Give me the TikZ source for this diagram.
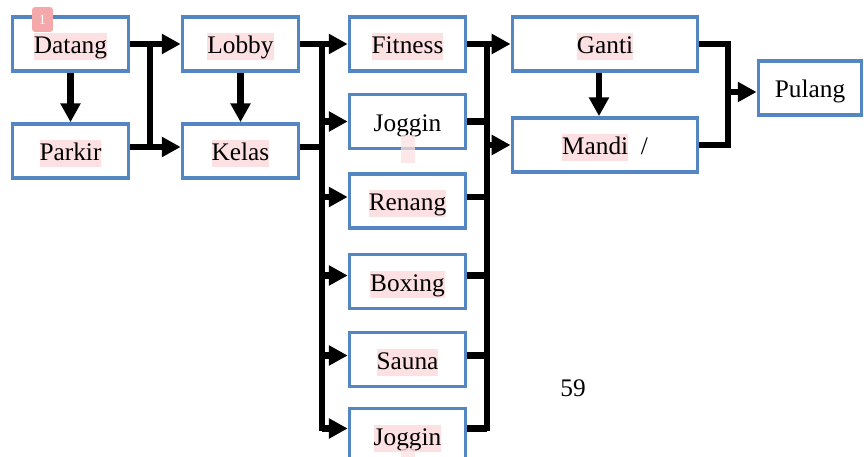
\documentclass[tikz,border=0pt]{standalone}
\usepackage{fontspec}
\setmainfont{Liberation Serif}
\usepackage{xcolor}
\usetikzlibrary{arrows.meta}
\usetikzlibrary{calc}
\definecolor{boxblue}{RGB}{84,134,194}
\definecolor{hlpink}{RGB}{252,224,226}
\definecolor{markpink}{RGB}{244,168,170}
\newcommand{\hl}[1]{{\setlength{\fboxsep}{0pt}\colorbox{hlpink}{\rule[-4.5pt]{0pt}{19pt}#1}}}
\tikzset{
	stepbox/.style={draw=boxblue, line width=2.6pt, fill=white, inner sep=0pt,
		text height=16pt, text depth=2pt,
		minimum width=2.9cm, minimum height=1.35cm, font=\fontsize{18}{19}\selectfont},
	widebox/.style={stepbox, minimum width=4.63cm},
	link/.style={line width=4.6pt},
	flow/.style={link, -{Triangle[length=0.47cm, width=0.48cm]}},
}

\begin{document}
\begin{tikzpicture}[x=0.025cm, y=-0.025cm]
					\useasboundingbox (0,0) rectangle (864,457);
					\clip (0,0) rectangle (864,457);
					% draw boxes
					\node[stepbox] (datang) at (70.5,44) {\hl{Datang}};
					\node[stepbox] (parkir) at (70.5,151) {\hl{Parkir}};
					\node[stepbox] (lobby) at (240.5,44) {\hl{Lobby}};
					\node[stepbox] (kelas) at (240.5,151) {\hl{Kelas}};
					\node[stepbox] (fitness) at (407.5,44) {\hl{Fitness}};
					\node[stepbox] (joggin) at (407.5,121.5) {Joggin};
					\node[stepbox] (renang) at (407.5,201) {\hl{Renang}};
					\node[stepbox] (boxing) at (407.5,281.5) {\hl{Boxing}};
					\node[stepbox] (sauna) at (407.5,359.5) {\hl{Sauna}};
					\node[stepbox] (jogginb) at (407.5,435.5) {\hl{Joggin}};
					\node[widebox] (ganti) at (605,44) {\hl{Ganti}};
					\node[widebox] (mandi) at (605,145) {\hl{Mandi}\hspace{9pt}/};
					\node[stepbox, minimum width=2.58cm] (pulang) at (810,88) {Pulang};
					% add marks
					\node[fill=markpink, rounded corners=2pt, minimum width=0.52cm, minimum height=0.62cm,
						inner sep=0pt, font=\fontsize{10}{10}\selectfont, text=white] (mark) at (42.5,19.5) {1};
					\fill[hlpink, opacity=.75] (401,135) rectangle (415,163);
					\fill[hlpink, opacity=.75] (401,448) rectangle (415,457);
					\node[font=\fontsize{18}{19}\selectfont] (page) at (573,388) {59};
					% bus lines
					\coordinate (bA) at (150,0);
					\coordinate (bB) at (322,0);
					\coordinate (bC) at (487,0);
					\coordinate (bD) at (728,0);
					% add arrows
					\draw[flow] (datang.south) -- (parkir.north);
					\draw[flow] (lobby.south) -- (kelas.north);
					\draw[flow] ($(ganti.south)+(-6,0)$) -- ($(mandi.north)+(-6,0)$);
					\draw[flow] (datang.east) -- (lobby.west);
					\draw[flow] ($(parkir.east)+(0,-4)$) -- ($(kelas.west)+(0,-4)$);
					\draw[link] (datang.east -| bA) -- ($(parkir.east -| bA)+(0,-4)$);
					\draw[link] (lobby.east) -| ($(jogginb.west -| bB)+(0,-4)$);
					\draw[link] ($(kelas.east)+(0,-4)$) -- ($(kelas.east -| bB)+(0,-4)$);
					\foreach \n/\d in {fitness/0, joggin/0, renang/4, boxing/6, sauna/4, jogginb/7}{
						\draw[flow] ($(\n.west -| bB)+(0,-\d)$) -- ($(\n.west)+(0,-\d)$);
						\draw[link] ($(\n.east)+(0,-\d)$) -- ($(\n.east -| bC)+(0,-\d)$);
					}
					\draw[link] (fitness.east -| bC) -- ($(jogginb.east -| bC)+(0,-4)$);
					\draw[flow] (fitness.east -| bC) -- (ganti.west);
					\draw[flow] (mandi.west -| bC) -- (mandi.west);
					\draw[link] (ganti.east) -| (mandi.east -| bD) -- (mandi.east);
					\draw[flow] ($(pulang.west -| bD)+(0,4)$) -- ($(pulang.west)+(0,4)$);
				\end{tikzpicture}
\end{document}
